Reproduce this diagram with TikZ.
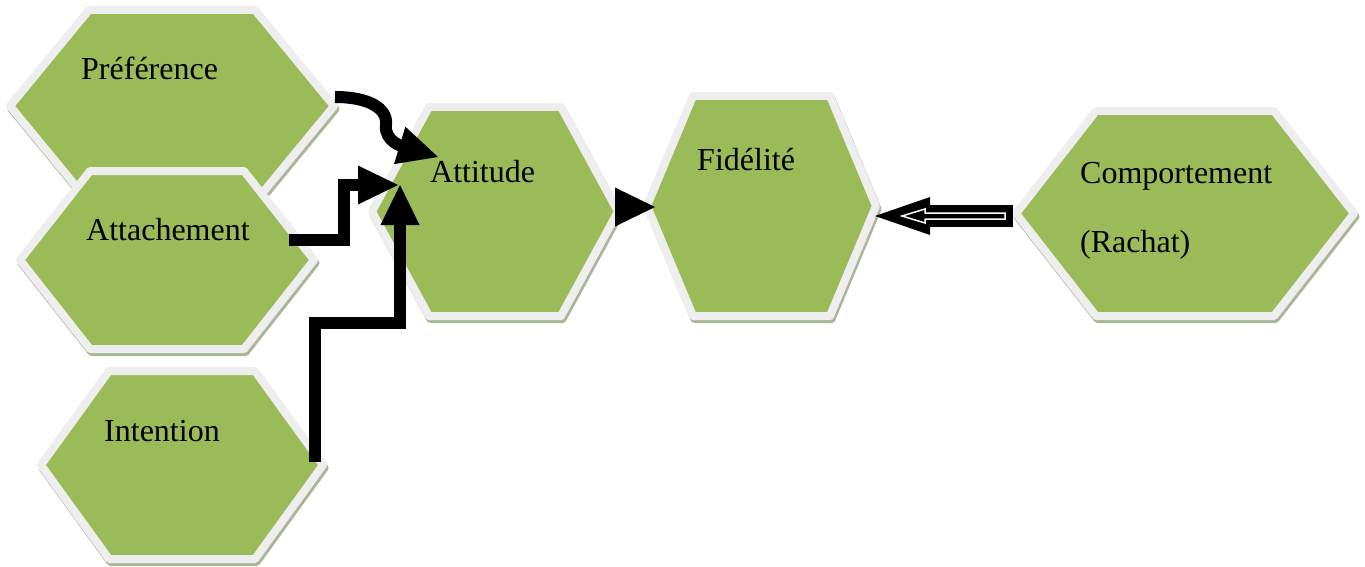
\documentclass[tikz,border=0pt]{standalone}
\usepackage{fontspec}
\setmainfont{Liberation Serif}
\usetikzlibrary{arrows.meta}
\definecolor{hexgreen}{HTML}{9BBB59}
\definecolor{hexborder}{HTML}{EEEEEE}
\definecolor{hexshadow}{HTML}{AAB69A}
\tikzset{
  hexbody/.style={fill=hexgreen, draw=hexborder, line width=8pt, line join=round},
  hexshade/.style={fill=hexshadow, draw=hexshadow, line width=8pt, line join=round},
  hexlabel/.style={anchor=base west, inner sep=0pt, font=\fontsize{32}{38}\selectfont},
  conn/.style={line width=12pt, line join=miter},
  bigtip/.style={-{Triangle[length=40pt,width=39pt,line width=0pt]}}
}
% name, left, right, top, bottom, inset
\newcommand\hexshape[6]{%
  \path[hexshade, shift={(1.5,3)}] (#2+4,{(#4+#5)/2}) -- (#2+#6,#4+4) -- (#3-#6,#4+4) -- (#3-4,{(#4+#5)/2}) -- (#3-#6,#5-4) -- (#2+#6,#5-4) -- cycle;
  \path[hexbody] (#2+4,{(#4+#5)/2}) -- (#2+#6,#4+4) -- (#3-#6,#4+4) -- (#3-4,{(#4+#5)/2}) -- (#3-#6,#5-4) -- (#2+#6,#5-4) -- cycle;
}
\begin{document}
\begin{tikzpicture}[x=1pt,y=-1pt]
\useasboundingbox (0,0) rectangle (1365,567);
% hexagons
\hexshape{pref}{6}{338}{6}{206}{83}
\hexshape{attach}{16}{318}{167}{353}{74}
\hexshape{intent}{37}{327}{367}{563}{72}
\hexshape{attitude}{368}{622}{103}{320}{61}
\hexshape{fid}{643}{880}{92}{320}{50}
\hexshape{comp}{1012}{1358}{107}{320}{84}
% labels
\node[hexlabel] (tpref) at (81,80) {Préférence};
\node[hexlabel] (tattach) at (86,240) {Attachement};
\node[hexlabel] (tintent) at (104,441) {Intention};
\node[hexlabel] (tattitude) at (430,182) {Attitude};
\node[hexlabel] (tfid) at (697,171) {Fidélité};
\node[hexlabel] (tcomp) at (1080,183) {Comportement};
\node[hexlabel] (trachat) at (1080,252) {(Rachat)};
% connector end points
\coordinate (pref-out) at (335,97);
\coordinate (attach-out) at (289,240);
\coordinate (intent-out) at (315,462);
\coordinate (att-in1) at (438,157);
\coordinate (att-in2) at (398,185);
\coordinate (att-in3) at (400,185);
\coordinate (att-out) at (615,207);
\coordinate (fid-in) at (655,207);
\coordinate (comp-out) at (1013,216);
\coordinate (fid-in2) at (875,216);
% connectors
\draw[conn, bigtip] (pref-out) .. controls (368,97) and (388,108) .. (386,125) .. controls (384,142) and (405,147) .. (att-in1);
\draw[conn, bigtip] (attach-out) -- (344,240) -- (344,185) -- (att-in2);
\draw[conn, bigtip] (intent-out) -- (315,323) -- (400,323) -- (att-in3);
\draw[conn, bigtip] (att-out) -- (fid-in);
\draw[line width=22pt, -{Triangle[length=55pt,width=38pt,line width=0pt]}] (comp-out) -- (fid-in2);
\draw[white, line width=1.5pt, line join=miter, shift={(fid-in2)}] (27,0) -- (50,-7) -- (50,-3) -- (130,-3) -- (130,3) -- (50,3) -- (50,7) -- cycle;
\end{tikzpicture}
\end{document}
